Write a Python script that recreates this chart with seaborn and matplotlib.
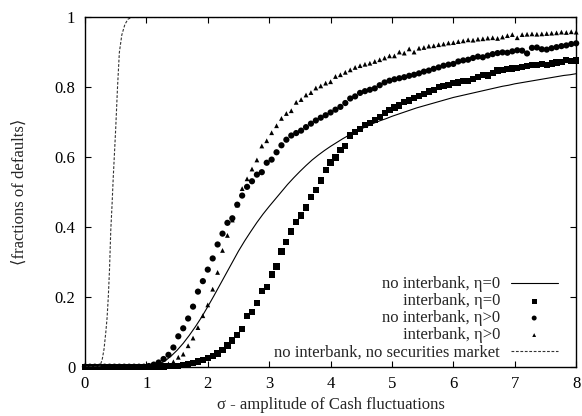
import matplotlib
matplotlib.use("Agg")
import matplotlib.pyplot as plt
import numpy as np
import seaborn as sns

# sigma grid of the simulated points (step 0.08)
sigma_pts = np.round(np.linspace(0, 8, 101), 2)

# interbank, eta=0 (squares)
frac_ib_eta0 = [
    0, 0, 0, 0, 0, 0, 0, 0, 0, 0, 0, 0, 0, 0, 0, 0,
    0.0005, 0.001, 0.002, 0.003, 0.004, 0.007, 0.010, 0.015, 0.020, 0.025,
    0.031, 0.038, 0.048, 0.061, 0.075, 0.090, 0.108, 0.145, 0.157, 0.182,
    0.217, 0.229, 0.264, 0.287, 0.330, 0.358, 0.387, 0.415, 0.433, 0.456,
    0.487, 0.506, 0.533, 0.564, 0.585, 0.599, 0.621, 0.633, 0.662, 0.672,
    0.681, 0.693, 0.697, 0.707, 0.716, 0.726, 0.735, 0.742, 0.748, 0.758,
    0.762, 0.769, 0.776, 0.781, 0.788, 0.793, 0.800, 0.804, 0.807, 0.812,
    0.814, 0.817, 0.819, 0.823, 0.830, 0.835, 0.834, 0.840, 0.848, 0.850,
    0.852, 0.854, 0.856, 0.859, 0.862, 0.864, 0.863, 0.866, 0.865, 0.868,
    0.871, 0.873, 0.878, 0.876, 0.877,
]

# no interbank, eta>0 (circles)
frac_noib_eta = [
    0, 0, 0, 0, 0, 0, 0, 0, 0, 0, 0, 0, 0,
    0.002, 0.006, 0.012, 0.022, 0.034, 0.055, 0.087, 0.110, 0.138, 0.172,
    0.215, 0.245, 0.278, 0.310, 0.350, 0.381, 0.412, 0.425, 0.464, 0.490,
    0.515, 0.531, 0.550, 0.557, 0.584, 0.593, 0.614, 0.634, 0.650, 0.662,
    0.669, 0.676, 0.686, 0.696, 0.705, 0.713, 0.720, 0.728, 0.736, 0.744,
    0.755, 0.768, 0.774, 0.784, 0.789, 0.793, 0.797, 0.806, 0.814, 0.819,
    0.823, 0.826, 0.829, 0.833, 0.836, 0.840, 0.845, 0.848, 0.853, 0.857,
    0.862, 0.865, 0.867, 0.874, 0.877, 0.879, 0.884, 0.888, 0.886, 0.891,
    0.895, 0.898, 0.900, 0.899, 0.903, 0.906, 0.905, 0.897, 0.913, 0.914,
    0.909, 0.908, 0.912, 0.915, 0.918, 0.920, 0.924, 0.926,
]

# interbank, eta>0 (triangles)
frac_ib_eta = [
    0, 0, 0, 0, 0, 0, 0, 0, 0, 0, 0, 0, 0, 0, 0,
    0.001, 0.003, 0.008, 0.014, 0.027, 0.036, 0.060, 0.082, 0.112, 0.146,
    0.177, 0.222, 0.270, 0.333, 0.376, 0.420, 0.463, 0.510, 0.538, 0.566,
    0.592, 0.632, 0.647, 0.670, 0.690, 0.711, 0.725, 0.733, 0.757, 0.765,
    0.778, 0.785, 0.798, 0.804, 0.812, 0.816, 0.831, 0.836, 0.843, 0.850,
    0.857, 0.862, 0.866, 0.869, 0.874, 0.879, 0.884, 0.890, 0.890, 0.901,
    0.898, 0.910, 0.901, 0.912, 0.914, 0.918, 0.919, 0.922, 0.924, 0.927,
    0.928, 0.931, 0.933, 0.936, 0.935, 0.938, 0.939, 0.941, 0.942, 0.940,
    0.944, 0.948, 0.951, 0.942, 0.951, 0.952, 0.953, 0.952, 0.953, 0.954,
    0.955, 0.956, 0.958, 0.957, 0.959, 0.958,
]

# no interbank, eta=0 (solid curve, step 0.1)
sigma_line = np.round(np.linspace(0, 8, 81), 2)
frac_noib_eta0 = [
    0, 0, 0, 0, 0, 0, 0, 0, 0, 0, 0,
    0.002, 0.007, 0.016, 0.030, 0.047, 0.067, 0.090, 0.115, 0.142, 0.172,
    0.203, 0.235, 0.267, 0.299, 0.331, 0.360, 0.387, 0.413, 0.437, 0.459,
    0.480, 0.501, 0.522, 0.541, 0.559, 0.576, 0.592, 0.606, 0.619, 0.631,
    0.642, 0.653, 0.663, 0.672, 0.681, 0.689, 0.697, 0.704, 0.710, 0.717,
    0.723, 0.729, 0.735, 0.741, 0.746, 0.751, 0.756, 0.761, 0.766, 0.771,
    0.775, 0.779, 0.783, 0.787, 0.791, 0.795, 0.799, 0.803, 0.806, 0.810,
    0.813, 0.816, 0.819, 0.822, 0.825, 0.828, 0.831, 0.834, 0.836, 0.839,
]

# no interbank, no securities market (dashed curve)
sigma_dash = [0, 0.20, 0.24, 0.28, 0.31, 0.34, 0.36, 0.38, 0.40, 0.42, 0.44,
              0.46, 0.48, 0.50, 0.53, 0.56, 0.60, 0.65, 0.70, 0.76, 8.0]
frac_dash = [0, 0, 0, 0.02, 0.05, 0.10, 0.14, 0.20, 0.28, 0.39, 0.46,
             0.54, 0.61, 0.68, 0.80, 0.90, 0.95, 0.98, 0.995, 1.0, 1.0]

sns.set_style("ticks")
plt.rcParams['font.family'] = ['Liberation Serif', 'DejaVu Serif']

fig = plt.figure(figsize=(5.82, 4.16), dpi=100)
ax = fig.add_axes([0.146, 0.1185, 0.844, 0.8395])

sns.lineplot(x=sigma_line, y=frac_noib_eta0, color="black", lw=0.8,
             label="no interbank, η=0", ax=ax)
sns.scatterplot(x=sigma_pts, y=frac_ib_eta0, marker="s", s=20, color="black",
                edgecolor="none", linewidth=0, clip_on=False,
                label="interbank, η=0", ax=ax)
sns.scatterplot(x=sigma_pts, y=frac_noib_eta, marker="o", s=20, color="black",
                edgecolor="none", linewidth=0, clip_on=False,
                label="no interbank, η>0", ax=ax)
sns.scatterplot(x=sigma_pts, y=frac_ib_eta, marker="^", s=12, color="black",
                edgecolor="none", linewidth=0, clip_on=False,
                label="interbank, η>0", ax=ax)
sns.lineplot(x=sigma_dash, y=frac_dash, color="#333333", lw=0.8,
             label="no interbank, no securities market", ax=ax)
ax.lines[-1].set_dashes([2.5, 1.5])

ax.set_xlim(0, 8)
ax.set_ylim(0, 1)
ax.set_xticks(range(0, 9))
ax.set_yticks([0, 0.2, 0.4, 0.6, 0.8, 1])
ax.set_yticklabels(["0", "0.2", "0.4", "0.6", "0.8", "1"])
ax.tick_params(direction="in", length=4, width=0.8, top=True, right=True,
               labelsize=12, pad=7, colors="black")
for sp in ax.spines.values():
    sp.set_visible(True)
    sp.set_linewidth(1.0)
    sp.set_color("black")

ax.set_xlabel("σ - amplitude of Cash fluctuations", fontsize=12, labelpad=3)
ax.set_ylabel("⟨fractions of defaults⟩", fontsize=12, labelpad=19)

handles, labels = ax.get_legend_handles_labels()
leg = ax.legend(handles, labels, loc="lower right", frameon=False,
                markerfirst=False, alignment="right", fontsize=12,
                bbox_to_anchor=(0.962, 0.018), borderaxespad=0, borderpad=0,
                handlelength=2.8, handletextpad=0.65, labelspacing=0.06,
                markerscale=0.8)

fig.savefig("out.png", dpi=100)
